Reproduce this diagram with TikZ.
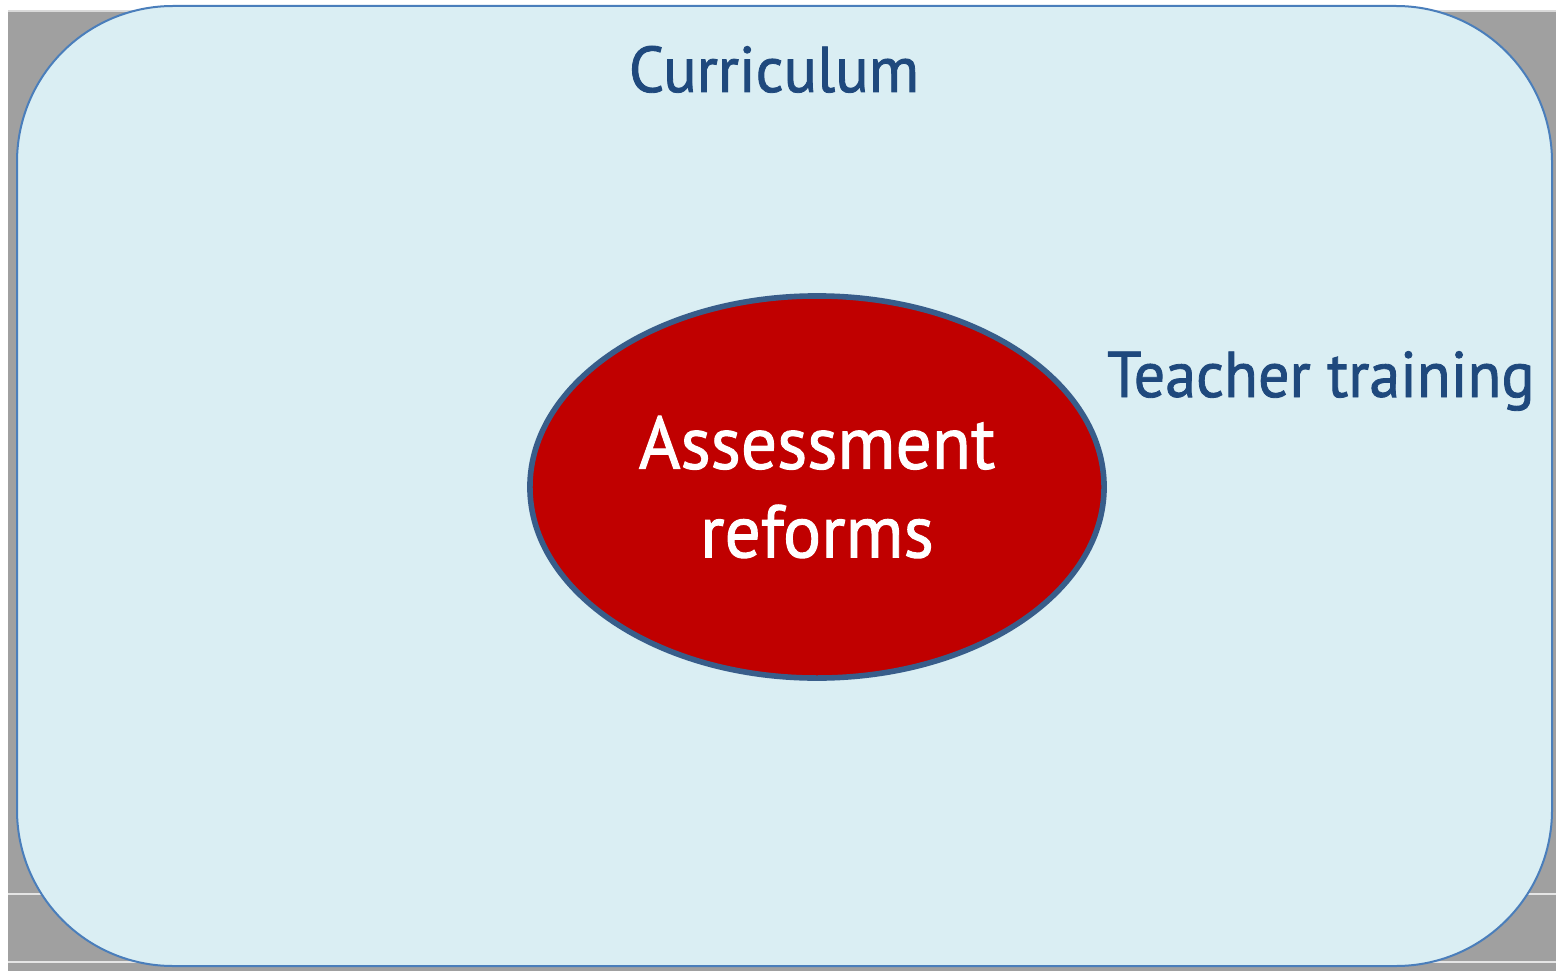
\documentclass[tikz,border=0pt]{standalone}
\usepackage{fontspec}
\setmainfont{PT Sans}[FakeStretch=0.96, FakeBold=1.3]
\usepackage{tikz}
\usetikzlibrary{positioning, shapes.geometric}

\definecolor{framegray}{HTML}{A0A0A0}
\definecolor{panelfill}{HTML}{DAEEF3}
\definecolor{panelline}{HTML}{4A7EBB}
\definecolor{labelblue}{HTML}{1F497D}
\definecolor{coredred}{HTML}{C00000}
\definecolor{coreline}{HTML}{385D8A}

\tikzset{
  outerlabel/.style={text=labelblue, font=\fontsize{46}{54}\selectfont, inner sep=0pt, anchor=base},
  core/.style={ellipse, draw=coreline, line width=1.4mm, fill=coredred, text=white,
    minimum width=14.35cm, minimum height=9.55cm, align=center,
    font=\fontsize{53}{63}\selectfont}
}

\begin{document}
\begin{tikzpicture}[x=0.025cm, y=-0.025cm]
  \useasboundingbox (0,0) rectangle (1556,971);
  \fill [framegray] (8,11) rectangle (1556,971);
  \draw [white!85!black, line width=0.6mm] (8,11) -- (1556,11);
  \draw [white!90!black, line width=0.5mm] (8,894) -- (1556,894);
  \draw [white!90!black, line width=0.5mm] (8,962) -- (1556,962);
  \draw [panelline, fill=panelfill, line width=0.5mm, rounded corners=3.9cm] (17,6) rectangle (1552,966);
  \node (curr) at (774,92) [outerlabel] {Curriculum};
  \node (teach) at (1321,397) [outerlabel] {Teacher training};
  \node (reform) at (817,487) [core] {Assessment\\reforms};
  \end{tikzpicture}
\end{document}
